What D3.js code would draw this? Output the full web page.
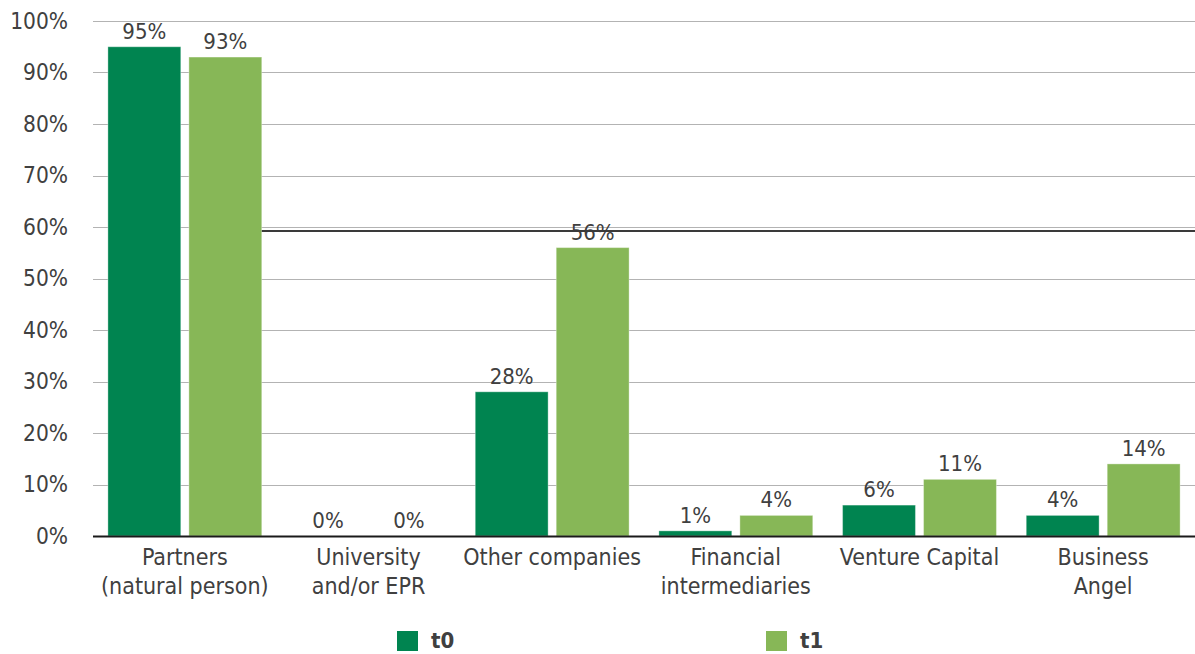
<!DOCTYPE html>
<html>
<head>
<meta charset="utf-8">
<script src="https://cdn.jsdelivr.net/npm/d3@7"></script>
<style>
  html, body { margin: 0; padding: 0; background: #fff; }
  svg text { font-family: "DejaVu Sans Condensed", "DejaVu Sans", sans-serif; font-stretch: condensed; fill: #404040; }
</style>
</head>
<body>
<svg id="chart" width="1195" height="654"></svg>
<script>
// Funding sources, share of firms at t0 and t1
const categories = [
  ["Partners", "(natural person)"],
  ["University", "and/or EPR"],
  ["Other companies"],
  ["Financial", "intermediaries"],
  ["Venture Capital"],
  ["Business", "Angel"]
];
const seriesNames = ["t0", "t1"];
const t0Values = [0.95, 0.00, 0.28, 0.01, 0.06, 0.04];
const t1Values = [0.93, 0.00, 0.56, 0.04, 0.11, 0.14];
const yTicks = [0, 0.1, 0.2, 0.3, 0.4, 0.5, 0.6, 0.7, 0.8, 0.9, 1.0];
const refLineValue = 0.592;

const colors = { t0: "#008450", t1: "#87B757" };

const svg = d3.select("#chart");
const plotLeft = 93, plotRight = 1195, plotTop = 21, plotBottom = 536;

const catKeys = categories.map(c => c.join(" "));
const x0 = d3.scaleBand().domain(catKeys).range([plotLeft, plotRight]).padding(0);
const x1 = d3.scaleBand().domain(seriesNames).range([0, x0.bandwidth()])
  .paddingInner(0.1).paddingOuter(0.184);
const y = d3.scaleLinear().domain([0, 1]).range([plotBottom, plotTop]);

// gridlines
svg.append("g")
  .selectAll("line").data(yTicks.filter(d => d > 0)).join("line")
  .attr("x1", plotLeft).attr("x2", plotRight)
  .attr("y1", d => Math.round(y(d)) + 0.5).attr("y2", d => Math.round(y(d)) + 0.5)
  .attr("stroke", "#b3b3b3").attr("stroke-width", 1);

// y axis labels
const yAxis = d3.axisLeft(y).tickValues(yTicks).tickFormat(d3.format(".0%")).tickSize(0).tickPadding(0);
const yg = svg.append("g").attr("transform", `translate(68,0)`).call(yAxis);
yg.select(".domain").remove();
yg.attr("font-family", null).attr("font-size", null);
yg.selectAll("text").attr("font-size", 22.5).attr("dy", "0.33em");

// bars
const rows = catKeys.map((k, i) => ({ key: k, t0: t0Values[i], t1: t1Values[i] }));
const groups = svg.append("g").selectAll("g").data(rows).join("g")
  .attr("transform", d => `translate(${x0(d.key)},0)`);

groups.selectAll("rect").data(d => seriesNames.map(s => ({ s, v: d[s] }))).join("rect")
  .attr("x", d => x1(d.s))
  .attr("width", x1.bandwidth())
  .attr("y", d => y(d.v))
  .attr("height", d => y(0) - y(d.v))
  .attr("fill", d => colors[d.s])
  .attr("stroke", "rgba(255,255,255,0.35)")
  .attr("stroke-width", 1);

// value labels
groups.selectAll("text.val").data(d => seriesNames.map(s => ({ s, v: d[s] }))).join("text")
  .attr("class", "val")
  .attr("x", d => x1(d.s) + x1.bandwidth() / 2)
  .attr("y", d => y(d.v) - 8)
  .attr("text-anchor", "middle")
  .attr("font-size", 22)
  .text(d => d3.format(".0%")(d.v));

// baseline
svg.append("line")
  .attr("x1", plotLeft).attr("x2", plotRight)
  .attr("y1", y(0) + 0.5).attr("y2", y(0) + 0.5)
  .attr("stroke", "#1a1a1a").attr("stroke-width", 2);

// reference line
const refStart = x0(catKeys[0]) + x1("t1") + x1.bandwidth();
svg.append("line")
  .attr("x1", refStart).attr("x2", plotRight)
  .attr("y1", y(refLineValue)).attr("y2", y(refLineValue))
  .attr("stroke", "#3a3a3a").attr("stroke-width", 2);

// category labels
const xg = svg.append("g");
categories.forEach((lines, i) => {
  const cx = x0(catKeys[i]) + x0.bandwidth() / 2;
  const t = xg.append("text").attr("text-anchor", "middle").attr("font-size", 23);
  lines.forEach((ln, j) => {
    t.append("tspan").attr("x", cx).attr("y", 565 + j * 29).text(ln);
  });
});

// legend
const legendX = [397, 766];
const lg = svg.append("g").selectAll("g").data(seriesNames).join("g")
  .attr("transform", (d, i) => `translate(${legendX[i]},631)`);
lg.append("rect").attr("width", 21).attr("height", 20).attr("fill", d => colors[d]);
lg.append("text").attr("x", 34).attr("y", 17).attr("font-size", 22).attr("font-weight", "bold")
  .text(d => d);
</script>
</body>
</html>
